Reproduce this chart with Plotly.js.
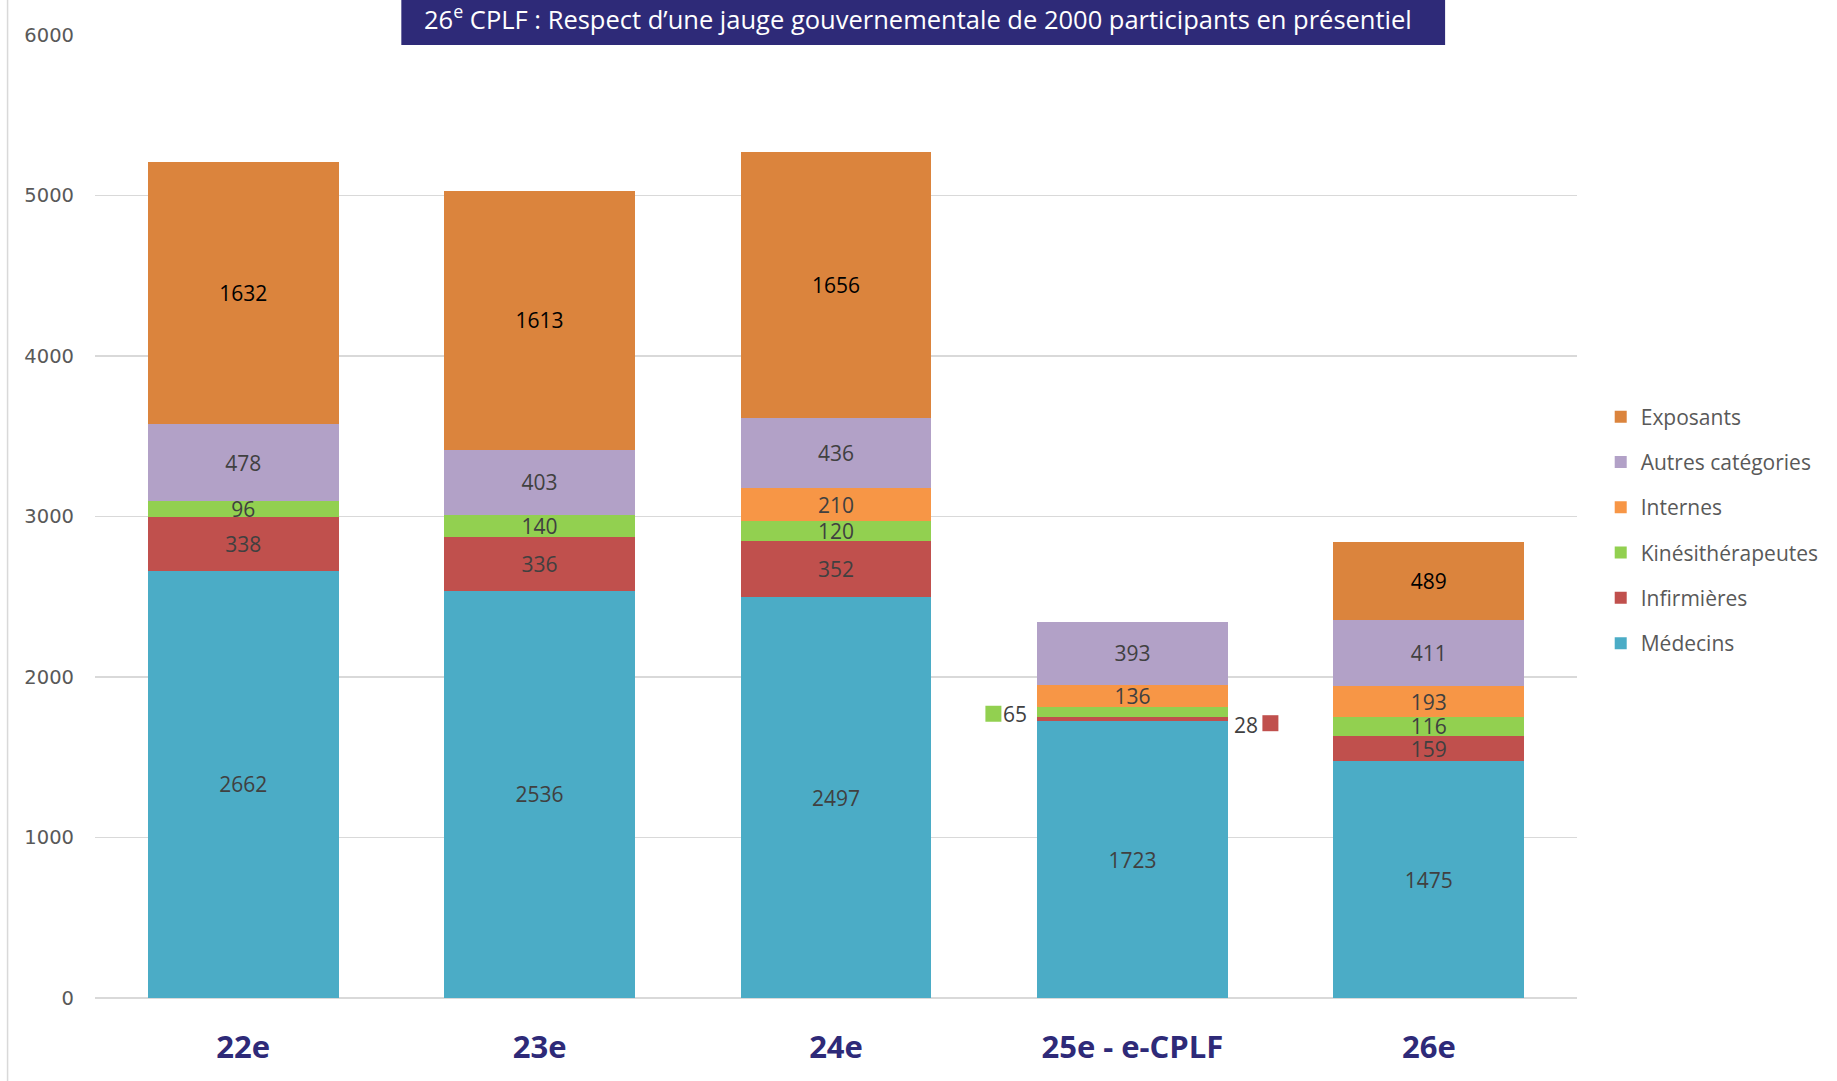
<!DOCTYPE html>
<html>
<head>
<meta charset="utf-8">
<script src="https://cdn.plot.ly/plotly-3.0.1.min.js"></script>
<style>
html,body{margin:0;padding:0;background:#fff;}
#chart{width:1837px;height:1081px;}
</style>
</head>
<body>
<div id="chart"></div>
<script>
// ---- DATA ----
const categories = ['22e', '23e', '24e', '25e - e-CPLF', '26e'];
const medecins = [2662, 2536, 2497, 1723, 1475];
const infirmieres = [338, 336, 352, 28, 159];
const kines = [96, 140, 120, 65, 116];
const internes = [0, 0, 210, 136, 193];
const autres = [478, 403, 436, 393, 411];
const exposants = [1632, 1613, 1656, 0, 489];
const seriesNames = ['Médecins', 'Infirmières', 'Kinésithérapeutes', 'Internes', 'Autres catégories', 'Exposants'];
const titleText = '26<sup>e</sup> CPLF : Respect d’une jauge gouvernementale de 2000 participants en présentiel';
const calloutCategory = '25e - e-CPLF';

// ---- STYLE ----
const colors = ['#4BACC6', '#C0504D', '#92D050', '#F79646', '#B2A1C7', '#DB843D'];
const labelColors = ['#404040', '#404040', '#404040', '#404040', '#404040', '#000000'];
const seriesValues = [medecins, infirmieres, kines, internes, autres, exposants];
const calloutIdx = categories.indexOf(calloutCategory);

const traces = seriesValues.map((vals, s) => ({
  type: 'bar',
  name: seriesNames[s],
  x: categories,
  y: vals,
  legendgroup: 'g' + s,
  legendrank: seriesValues.length - s,
  text: vals.map((v, i) => (v > 0 && !(i === calloutIdx && (s === 1 || s === 2))) ? String(v) : ''),
  textposition: 'inside',
  insidetextanchor: 'middle',
  textangle: 0,
  constraintext: 'none',
  cliponaxis: false,
  textfont: {family: 'Open Sans, sans-serif', size: 21, color: labelColors[s]},
  marker: {color: colors[s], line: {width: 0}},
  hoverinfo: 'x+y+name'
}));

// cumulative positions for callouts
function segCenter(s, i) {
  let base = 0;
  for (let k = 0; k < s; k++) base += seriesValues[k][i];
  return base + seriesValues[s][i] / 2;
}
const kineY = segCenter(2, calloutIdx);
const infY = segCenter(1, calloutIdx);

const annotations = [
  {xref: 'paper', yref: 'paper', x: 0.5555, y: 1.0185, xanchor: 'center', yanchor: 'middle',
   text: titleText, showarrow: false, font: {family: 'Open Sans, sans-serif', size: 25.5, color: '#FFFFFF'}},
  {xref: 'x', yref: 'y', x: calloutCategory, y: kineY, xanchor: 'left', yanchor: 'middle', xshift: -131, yshift: -2,
   text: String(kines[calloutIdx]), showarrow: false, font: {family: 'Open Sans, sans-serif', size: 21, color: '#404040'}},
  {xref: 'x', yref: 'y', x: calloutCategory, y: infY, xanchor: 'right', yanchor: 'middle', xshift: 128, yshift: -6,
   text: String(infirmieres[calloutIdx]), showarrow: false, font: {family: 'Open Sans, sans-serif', size: 21, color: '#404040'}}
];

const shapes = [
  {type: 'rect', xref: 'paper', yref: 'paper', x0: 0.2067, x1: 0.911, y0: 0.9896, y1: 1.04,
   fillcolor: '#2E2A78', line: {width: 0}, layer: 'above'},
  {type: 'line', xref: 'paper', yref: 'paper', x0: -0.059, x1: -0.059, y0: -0.09, y1: 1.04,
   line: {color: '#D9D9D9', width: 1.5}},
  {type: 'rect', xref: 'x', yref: 'y', xsizemode: 'pixel', ysizemode: 'pixel',
   xanchor: calloutCategory, yanchor: kineY, x0: -147, x1: -131, y0: -10, y1: 6,
   fillcolor: colors[2], line: {width: 0}},
  {type: 'rect', xref: 'x', yref: 'y', xsizemode: 'pixel', ysizemode: 'pixel',
   xanchor: calloutCategory, yanchor: infY, x0: 130, x1: 146, y0: -12, y1: 4,
   fillcolor: colors[1], line: {width: 0}}
];

const layout = {
  width: 1837, height: 1081,
  margin: {l: 94.5, r: 260, t: 35, b: 83, pad: 0},
  paper_bgcolor: '#FFFFFF', plot_bgcolor: '#FFFFFF',
  barmode: 'stack',
  bargap: 0.356,
  showlegend: true,
  legend: {
    x: 1.016, xanchor: 'left', y: 0.486, yanchor: 'middle',
    traceorder: 'grouped', tracegroupgap: 15,
    font: {family: 'Open Sans, sans-serif', size: 21, color: '#595959'},
    bgcolor: 'rgba(0,0,0,0)'
  },
  xaxis: {
    type: 'category',
    showgrid: false, zeroline: false, showline: false, ticks: '',
    tickfont: {family: 'Open Sans, sans-serif', size: 31, color: '#2E2A78', weight: 'bold'},
    ticklabelstandoff: 28
  },
  yaxis: {
    range: [0, 6000], dtick: 1000,
    showgrid: true, gridcolor: '#D9D9D9', gridwidth: 1.5,
    zeroline: true, zerolinecolor: '#D9D9D9', zerolinewidth: 1.5,
    showline: false, ticks: '',
    tickfont: {family: 'DejaVu Sans, sans-serif', size: 19.5, color: '#595959'},
    ticklabelstandoff: 20
  },
  annotations: annotations,
  shapes: shapes
};

Plotly.newPlot('chart', traces, layout, {displayModeBar: false, staticPlot: true});
</script>
</body>
</html>
